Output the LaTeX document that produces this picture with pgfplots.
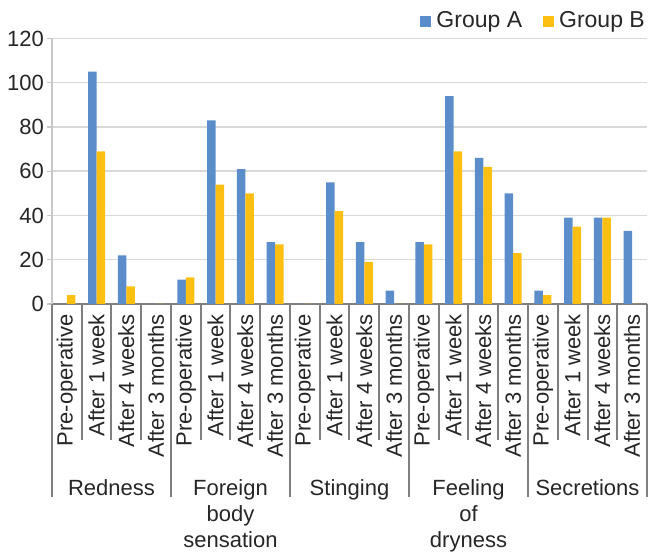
\documentclass[border=0pt]{standalone}
\usepackage{pgfplots}
\pgfplotsset{compat=1.18}
\usepackage{fontspec}
\setmainfont{Liberation Sans}
\definecolor{barA}{RGB}{91,141,203}
\definecolor{barB}{RGB}{253,192,18}
\definecolor{txt}{RGB}{38,38,38}
\definecolor{gridc}{RGB}{217,217,217}
\definecolor{axc}{RGB}{128,128,128}
\begin{document}
\fontsize{22pt}{26pt}\selectfont
\begin{tikzpicture}
\path (-52pt,-249pt) rectangle (597pt,304pt);
\begin{axis}[
  at={(0,0)}, anchor=south west,
  scale only axis, width=595pt, height=265.5pt,
  xmin=-0.5, xmax=19.5, ymin=0, ymax=120,
  ytick={0,20,...,120},
  xtick={0,...,19},
  xticklabels={Pre-operative,After 1 week,After 4 weeks,After 3 months,
    Pre-operative,After 1 week,After 4 weeks,After 3 months,
    Pre-operative,After 1 week,After 4 weeks,After 3 months,
    Pre-operative,After 1 week,After 4 weeks,After 3 months,
    Pre-operative,After 1 week,After 4 weeks,After 3 months},
  xticklabel style={rotate=90, anchor=east, inner sep=0pt, xshift=-5pt, font=\fontsize{22pt}{26pt}\selectfont, text=txt},
  yticklabel style={inner sep=0pt, xshift=-3pt, font=\fontsize{22pt}{26pt}\selectfont, text=txt},
  /pgf/number format/assume math mode=true,
  xtick style={draw=none},
  ytick style={draw=gridc!80!gray, line width=1.2pt},
  tick align=outside, major tick length=5pt,
  axis x line*=bottom, axis y line*=left,
  x axis line style={draw=axc, line width=2pt},
  y axis line style={draw=gridc!80!gray, line width=1.2pt},
  ymajorgrids, grid style={draw=gridc, line width=1.5pt},
  ybar=0pt, bar width=8.5pt,
  clip=false,
  legend columns=2,
  legend image code/.code={\fill[#1] (0pt,-5.5pt) rectangle (11pt,5.5pt); \path (16pt,0pt);},
  legend style={at={(1,1)}, anchor=south east, draw=none, fill=none,
    inner sep=0pt, yshift=7pt, xshift=-2pt,
    font=\fontsize{23pt}{27pt}\selectfont, text=txt,
    nodes={inner sep=0pt},
    /tikz/every even column/.append style={column sep=21pt}},
]
\addplot[fill=barA, draw=none] coordinates {
 (0,0) (1,105) (2,22) (3,0)
 (4,11) (5,83) (6,61) (7,28)
 (8,0) (9,55) (10,28) (11,6)
 (12,28) (13,94) (14,66) (15,50)
 (16,6) (17,39) (18,39) (19,33)};
\addplot[fill=barB, draw=none] coordinates {
 (0,4) (1,69) (2,8) (3,0)
 (4,12) (5,54) (6,50) (7,27)
 (8,0) (9,42) (10,19) (11,0)
 (12,27) (13,69) (14,62) (15,23)
 (16,4) (17,35) (18,39) (19,0)};
\legend{Group A, Group B}
\pgfplotsinvokeforeach{0.5,1.5,2.5,4.5,5.5,6.5,8.5,9.5,10.5,12.5,13.5,14.5,16.5,17.5,18.5}{
  \draw[axc, line width=2pt] (axis cs:#1,0) -- ++(0pt,-136pt);
}
\pgfplotsinvokeforeach{-0.5,3.5,7.5,11.5,15.5,19.5}{
  \draw[axc, line width=2pt] (axis cs:#1,0) -- ++(0pt,-193pt);
}
\node[anchor=north, inner sep=0pt, align=center, text=txt] at ([yshift=-175pt]axis cs:1.5,0) {Redness};
\node[anchor=north, inner sep=0pt, align=center, text=txt] at ([yshift=-175pt]axis cs:5.5,0) {Foreign\\body\\sensation};
\node[anchor=north, inner sep=0pt, align=center, text=txt] at ([yshift=-175pt]axis cs:9.5,0) {Stinging};
\node[anchor=north, inner sep=0pt, align=center, text=txt] at ([yshift=-175pt]axis cs:13.5,0) {Feeling\\of\\dryness};
\node[anchor=north, inner sep=0pt, align=center, text=txt] at ([yshift=-175pt]axis cs:17.5,0) {Secretions};
\end{axis}
\end{tikzpicture}
\end{document}
